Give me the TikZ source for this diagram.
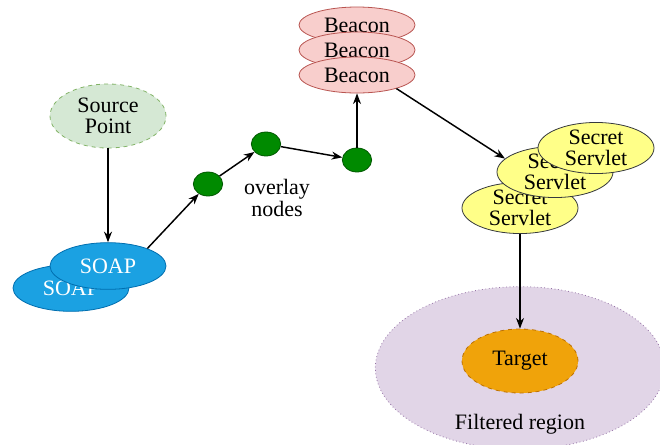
\documentclass[tikz,border=0pt]{standalone}
\usepackage{fontspec}
\setmainfont{Liberation Serif}
\usetikzlibrary{positioning, arrows.meta, shapes.geometric}
\definecolor{srcfill}{HTML}{D5E8D4}
\definecolor{srcline}{HTML}{82B366}
\definecolor{soapfill}{HTML}{1BA1E2}
\definecolor{soapline}{HTML}{006EAF}
\definecolor{dotfill}{HTML}{008A00}
\definecolor{dotline}{HTML}{005700}
\definecolor{beaconfill}{HTML}{F8CECC}
\definecolor{beaconline}{HTML}{B85450}
\definecolor{servfill}{HTML}{FFFF88}
\definecolor{servline}{HTML}{36393D}
\definecolor{targetfill}{HTML}{F0A30A}
\definecolor{targetline}{HTML}{BD7000}
\definecolor{regionfill}{HTML}{E1D5E7}
\definecolor{regionline}{HTML}{9673A6}

\begin{document}
\begin{tikzpicture}[x=0.75pt,y=-0.75pt,->,>={Stealth[length=8pt,width=6pt]},line width=1.1pt,
  font=\fontsize{16.5}{16}\selectfont]
  \tikzstyle{blob}=[ellipse,minimum width=87pt,inner sep=0pt,align=center,line width=0.6pt]
  \tikzstyle{source}=[blob,draw=srcline,fill=srcfill,dashed,minimum height=48pt]
  \tikzstyle{soap}=[blob,draw=soapline,fill=soapfill,text=white,minimum height=35pt]
  \tikzstyle{beacon}=[blob,draw=beaconline,fill=beaconfill,minimum height=27pt]
  \tikzstyle{servlet}=[blob,draw=servline,fill=servfill,minimum height=37pt]
  \tikzstyle{target}=[blob,draw=targetline,fill=targetfill,dashed,minimum height=48pt]
  \tikzstyle{region}=[blob,draw=regionline,fill=regionfill,dotted,minimum width=217pt,minimum height=122pt]
  \tikzstyle{overlay}=[ellipse,draw=dotline,fill=dotfill,line width=0.6pt,minimum width=22pt,minimum height=18pt,inner sep=0pt]

  \useasboundingbox (0,0) rectangle (660,444);

  \node[region] (region) at (520,368) {};
  \node (regionlabel) at (520,424) {Filtered region};

  \node[source] (source) at (108,116) {Source\\Point};
  \node[soap] (soap1) at (71,288) {SOAP};
  \node[soap] (soap2) at (108,266) {SOAP};

  \node[overlay] (dot1) at (208,184) {};
  \node[overlay] (dot2) at (266,144) {};
  \node[overlay] (dot3) at (357,160) {};
  \node[align=center] (overlaytext) at (277,198) {overlay\\nodes};

  \node[beacon] (beacon1) at (357,25) {Beacon};
  \node[beacon] (beacon2) at (357,50) {Beacon};
  \node[beacon] (beacon3) at (357,75) {Beacon};

  \node[servlet] (servlet1) at (520,208) {Secret\\Servlet};
  \node[servlet] (servlet2) at (555,172) {Secret\\Servlet};
  \node[servlet] (servlet3) at (596,148) {Secret\\Servlet};

  \node[target] (target) at (520,361) {Target};

  \path (source) edge (soap2);
  \path (soap2.24) edge (dot1);
  \path (dot1) edge (dot2);
  \path (dot2) edge (dot3);
  \path (dot3) edge (beacon3);
  \path (beacon3.-19) edge (servlet2.165);
  \path (servlet1) edge (target);
\end{tikzpicture}
\end{document}
